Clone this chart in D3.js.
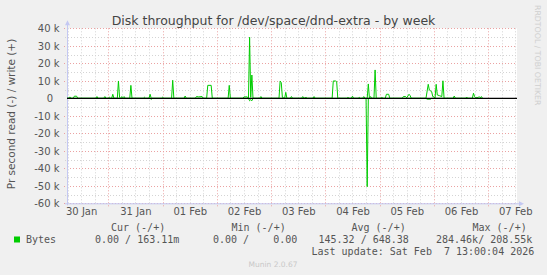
<!DOCTYPE html>
<meta charset="utf-8">
<style>
  body { margin: 0; background: #f0f0f0; }
  svg { display: block; }
  .tick-label { font-family: "DejaVu Sans", sans-serif; font-size: 10px; fill: #555; }
  .legend { font-family: "DejaVu Sans Mono", monospace; font-size: 10px; fill: #555; white-space: pre; }
</style>
<svg width="547" height="275"></svg>
<script src="https://d3js.org/d3.v7.min.js"></script>
<script>
// time = hours since 2026-01-30 00:00 UTC, values in kB/s
var writeHours = [5.75, 6.5, 7, 7.5, 8.5, 9, 10, 10.5, 18.5, 19, 19.5, 22, 22.5, 23, 24, 24.5, 25,
  25.5, 26, 26.5, 28, 28.5, 29, 29.5, 30, 30.5, 31, 31.5, 33.5, 34, 34.5, 39.5, 40, 40.5,
  42, 42.5, 43, 47.5, 48, 48.5, 52, 52.5, 53, 57.5, 58, 58.5, 62.5, 63, 64, 65.5, 66,
  67.5, 68, 69.5, 70, 77, 77.5, 78, 83.5, 84, 85.5, 86, 86.5, 87, 87.5, 88, 91, 91.5, 92,
  99.5, 100, 100.5, 101, 102, 102.5, 103, 104.5, 105, 105.5, 109.5, 110, 110.5, 111.5, 112,
  114.5, 115, 115.5, 123, 123.5, 124.5, 125, 125.5, 129.5, 130, 130.5, 131.5, 132, 132.5,
  134.5, 135, 135.5, 136.5, 137, 137.5, 138.5, 139, 139.5, 140, 140.5, 141.5, 142, 142.5,
  144.5, 145, 145.5, 146.5, 147, 148, 148.5, 154, 154.5, 155.5, 156, 157, 157.5, 158,
  164.5, 165.5, 166, 167, 167.5, 168, 168.5, 169, 169.5, 170.5, 171.5, 172, 172.5,
  176.5, 177, 177.5, 182, 182.5, 183, 185, 185.5, 186, 186.5, 187, 187.5, 188, 188.5, 189, 189.5];
var writeValues = [0, 0, 0.8, 0, 0, 1.2, 1.2, 0, 0, 1.0, 0, 0, 1.0, 0, 0, 0.6, 0,
  0, 2.3, 0, 0, 9.9, 0.5, 0, 1.0, 0.3, 1.0, 0, 0, 7.4, 0, 0, 0.6, 0,
  0, 2.3, 0, 0, 0.6, 0, 0, 10.3, 0, 0, 1.3, 0, 0, 1.0, 0.8, 1.0, 0,
  0, 7.4, 7.4, 0, 0, 7.4, 0, 0, 0.8, 0.8, 0, 34.9, 0.5, 13.3, 0, 0, 1.0, 0,
  0, 9.9, 9.0, 0.5, 0, 3.4, 0, 0, 1.0, 0, 0, 1.0, 0, 0.5, 0,
  0, 1.0, 0, 0, 9.9, 9.9, 9.6, 0, 0, 0.5, 0, 0, 1.2, 0,
  0, 0.5, 0, 0, 1.0, 0, 0, 8.2, 0, 1.0, 0, 0, 16.2, 0,
  0, 0.5, 0, 0, 2.3, 2.3, 0, 0, 1.0, 1.0, 0.3, 2.3, 1.5, 0,
  0, 8.0, 4.7, 3.8, 1.0, 0.8, 0, 8.0, 1.9, 1.5, 1.0, 10.0, 0,
  0, 1.3, 0, 0, 0.7, 0, 0, 2.9, 1.0, 0.3, 0.5, 0.3, 1.0, 0.3, 1.0, 0];
var readHours = [5.75, 42.5, 43, 43.5, 86, 86.5, 87, 87.5, 88, 138, 138.5, 139, 164.5, 165, 166.5, 167, 189.5];
var readValues = [0, 0, 0.6, 0, 0, 1.4, 0.8, 1.4, 0, 0, 50.5, 0, 0, 0.5, 0.5, 0, 0];

var yTicks = [-60, -50, -40, -30, -20, -10, 0, 10, 20, 30, 40];
var dayLabels = ["30 Jan", "31 Jan", "01 Feb", "02 Feb", "03 Feb", "04 Feb", "05 Feb", "06 Feb", "07 Feb"];
var dayDates = ["2026-01-30", "2026-01-31", "2026-02-01", "2026-02-02", "2026-02-03",
  "2026-02-04", "2026-02-05", "2026-02-06", "2026-02-07"];

var svg = d3.select("svg");
var base = Date.UTC(2026, 0, 30);
function hourDate(h) { return new Date(base + h * 3600e3); }

var plotL = 67, plotR = 517, plotT = 28.3, plotB = 203.3;
var x = d3.scaleUtc()
    .domain([hourDate(5.75), hourDate(204.75)])
    .range([plotL, plotR]);
var y = d3.scaleLinear()
    .domain([-60, 40])
    .range([plotB, plotT]);

// plot background
svg.append("rect")
    .attr("x", plotL).attr("y", plotT)
    .attr("width", plotR - plotL).attr("height", plotB - plotT)
    .attr("fill", "#fff");

// grid
var grid = svg.append("g").attr("fill", "none").attr("stroke-width", 1);
var minorY = d3.range(-55, 40, 10);
grid.selectAll(".hminor").data(minorY).enter().append("line")
    .attr("x1", plotL - 2).attr("x2", plotR)
    .attr("y1", function (d) { return Math.round(y(d)) + 0.5; })
    .attr("y2", function (d) { return Math.round(y(d)) + 0.5; })
    .attr("stroke", "#d4d4d4").attr("stroke-dasharray", "1,2");
var minorX = d3.utcHour.every(6).range(x.domain()[0], x.domain()[1])
    .filter(function (d) { return d.getUTCHours() !== 0; });
grid.selectAll(".vminor").data(minorX).enter().append("line")
    .attr("x1", function (d) { return Math.round(x(d)) + 0.5; })
    .attr("x2", function (d) { return Math.round(x(d)) + 0.5; })
    .attr("y1", plotT).attr("y2", plotB + 2)
    .attr("stroke", "#d4d4d4").attr("stroke-dasharray", "1,2");
grid.selectAll(".hmajor").data(yTicks.filter(function (d) { return d !== 0; })).enter().append("line")
    .attr("x1", plotL - 3).attr("x2", plotR)
    .attr("y1", function (d) { return Math.round(y(d)) + 0.5; })
    .attr("y2", function (d) { return Math.round(y(d)) + 0.5; })
    .attr("stroke", "#eba2a2").attr("stroke-dasharray", "1,2");
var majorX = d3.utcDay.range(x.domain()[0], x.domain()[1]);
grid.selectAll(".vmajor").data(majorX).enter().append("line")
    .attr("x1", function (d) { return Math.round(x(d)) + 0.5; })
    .attr("x2", function (d) { return Math.round(x(d)) + 0.5; })
    .attr("y1", plotT).attr("y2", plotB + 3)
    .attr("stroke", "#eba2a2").attr("stroke-dasharray", "1,2");

// axes lines with arrows
var axisColor = "#c4c8f2";
svg.append("line").attr("x1", plotL + 0.5).attr("x2", plotL + 0.5)
    .attr("y1", plotT - 4).attr("y2", plotB + 2).attr("stroke", axisColor);
svg.append("path").attr("d", "M" + (plotL - 2) + "," + (plotT - 3) + "L" + (plotL + 0.5) + "," + (plotT - 8) + "L" + (plotL + 3) + "," + (plotT - 3) + "Z")
    .attr("fill", axisColor);
svg.append("line").attr("x1", plotL - 2).attr("x2", plotR + 3)
    .attr("y1", plotB + 0.5).attr("y2", plotB + 0.5).attr("stroke", axisColor);
svg.append("path").attr("d", "M" + (plotR + 2) + "," + (plotB - 2) + "L" + (plotR + 7) + "," + (plotB + 0.5) + "L" + (plotR + 2) + "," + (plotB + 3) + "Z")
    .attr("fill", axisColor);

// y tick labels
var yAxis = d3.axisLeft(y).tickValues(yTicks).tickSize(0).tickPadding(0)
    .tickFormat(function (d) { return d === 0 ? "0\u00a0\u00a0" : d + " k"; });
var gy = svg.append("g").attr("transform", "translate(59.5,0)").call(yAxis);
gy.select(".domain").remove();
gy.selectAll("text").attr("class", "tick-label").attr("fill", null).attr("dy", "0.34em");

// x tick labels at noon of each day
var xAxis = d3.axisBottom(x)
    .tickValues(dayDates.map(function (s) { return d3.utcHour.offset(new Date(s + "T00:00Z"), 12); }))
    .tickSize(0).tickPadding(0)
    .tickFormat(function (d, i) { return dayLabels[i]; });
var gx = svg.append("g").attr("transform", "translate(0,208)").call(xAxis);
gx.select(".domain").remove();
gx.selectAll("text").attr("class", "tick-label").attr("fill", null).attr("dy", "0.71em");

// series
var line = d3.line()
    .x(function (d) { return x(d.t); })
    .y(function (d) { return y(d.v); });
var writeData = writeHours.map(function (h, i) { return { t: hourDate(h), v: writeValues[i] }; });
var readData = readHours.map(function (h, i) { return { t: hourDate(h), v: -readValues[i] }; });
svg.append("path").datum(readData).attr("d", line)
    .attr("fill", "none").attr("stroke", "#00cc00").attr("stroke-width", 1);
svg.append("path").datum(writeData).attr("d", line)
    .attr("fill", "none").attr("stroke", "#00cc00").attr("stroke-width", 1);

// zero line
svg.append("line").attr("x1", plotL).attr("x2", plotR)
    .attr("y1", y(0)).attr("y2", y(0))
    .attr("stroke", "#000").attr("stroke-width", 1.2);

// title and labels
svg.append("text").attr("x", 273.5).attr("y", 24.5).attr("text-anchor", "middle")
    .attr("font-family", "DejaVu Sans").attr("font-size", 12.5).attr("fill", "#444")
    .text("Disk throughput for /dev/space/dnd-extra - by week");
svg.append("text").attr("transform", "translate(15,114) rotate(-90)").attr("text-anchor", "middle")
    .attr("font-family", "DejaVu Sans").attr("font-size", 10.5).attr("fill", "#555")
    .text("Pr second read (-) / write (+)");
svg.append("text").attr("transform", "translate(535,5) rotate(90)")
    .attr("font-family", "DejaVu Sans").attr("font-size", 7.8).attr("fill", "#cfcfcf")
    .text("RRDTOOL / TOBI OETIKER");
svg.append("text").attr("x", 273).attr("y", 267).attr("text-anchor", "middle")
    .attr("font-family", "DejaVu Sans").attr("font-size", 7.5).attr("fill", "#c8c8c8")
    .text("Munin 2.0.67");

// legend
var headers = ["Cur (-/+)", "Min (-/+)", "Avg (-/+)", "Max (-/+)"];
var headerX = [111, 231.5, 351.5, 472.5];
var rowTexts = ["0.00 / 163.11m", "0.00 /    0.00", "145.32 / 648.38", "284.46k/ 208.55k"];
var rowX = [95, 213, 318.5, 436];
var lg = svg.append("g");
lg.selectAll(".hdr").data(headers).enter().append("text")
    .attr("class", "legend").attr("x", function (d, i) { return headerX[i]; }).attr("y", 231)
    .text(function (d) { return d; });
lg.selectAll(".row").data(rowTexts).enter().append("text")
    .attr("class", "legend").attr("x", function (d, i) { return rowX[i]; }).attr("y", 243)
    .text(function (d) { return d; });
lg.append("rect").attr("x", 14).attr("y", 236.5).attr("width", 6).attr("height", 6).attr("fill", "#00cc00");
lg.append("text").attr("class", "legend").attr("x", 26).attr("y", 243).text("Bytes");
lg.append("text").attr("class", "legend").attr("x", 311.5).attr("y", 254.5)
    .text("Last update: Sat Feb  7 13:00:04 2026");
</script>
